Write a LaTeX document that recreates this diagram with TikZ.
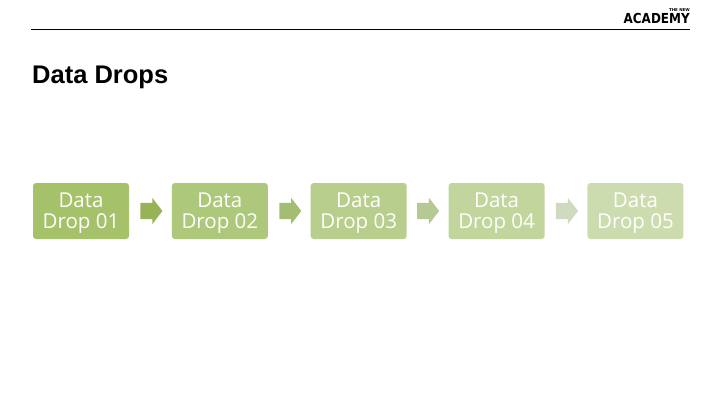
\documentclass[tikz,border=0pt]{standalone}
\usepackage{fontspec}
\setmainfont{Liberation Sans}
\newfontfamily\dropfont{Open Sans}
\newfontfamily\logofont{DejaVu Sans}
\usetikzlibrary{positioning,shapes.arrows}
\definecolor{dropa}{HTML}{A5C26B}
\definecolor{dropb}{HTML}{AEC87B}
\definecolor{dropc}{HTML}{B8CE8C}
\definecolor{dropd}{HTML}{C2D59C}
\definecolor{drope}{HTML}{CDDCAE}
\definecolor{arrowa}{HTML}{98B357}
\definecolor{arrowb}{HTML}{A5BD72}
\definecolor{arrowc}{HTML}{B6C893}
\definecolor{arrowd}{HTML}{D0DAC0}
\newcommand{\dropstrut}{\rule{0pt}{19.5pt}}
\tikzset{
	dropbox/.style={fill=#1, rounded corners=3pt, minimum width=96pt, minimum height=56pt, inner sep=0pt,
		align=center, text=white, font=\dropfont\fontsize{20.5}{21}\selectfont},
	droparrow/.style={single arrow, fill=#1, minimum height=22pt, inner xsep=0pt, inner ysep=8pt,
		single arrow head extend=5pt, single arrow tip angle=105, single arrow head indent=0pt}
}
\begin{document}
\begin{tikzpicture}[x=1pt, y=-1pt]
	\useasboundingbox (0,0) rectangle (720,405);
	\draw[line width=0.9pt] (31,29) -- (690,29);
	\node [anchor=base west, inner sep=0pt, font=\bfseries\fontsize{25.5}{28}\selectfont] (title) at (32,83) {Data Drops};
	\node [anchor=base east, inner sep=0pt, font=\logofont\bfseries\fontsize{12}{12}\selectfont] (logo) at (690,23) {\scalebox{1}[1.15]{ACADEMY}};
	\node [anchor=base east, inner sep=0pt, font=\logofont\bfseries\fontsize{4}{4}\selectfont] (small) at (690,11.5) {THE NEW};
	\node [dropbox=dropa] (drop1) at (81,211) {\dropstrut Data\\Drop 01};
	\node [droparrow=arrowa, right=11pt of drop1] (arrow1) {};
	\node [dropbox=dropb, right=9pt of arrow1] (drop2) {\dropstrut Data\\Drop 02};
	\node [droparrow=arrowb, right=11pt of drop2] (arrow2) {};
	\node [dropbox=dropc, right=9pt of arrow2] (drop3) {\dropstrut Data\\Drop 03};
	\node [droparrow=arrowc, right=10pt of drop3] (arrow3) {};
	\node [dropbox=dropd, right=9pt of arrow3] (drop4) {\dropstrut Data\\Drop 04};
	\node [droparrow=arrowd, right=11pt of drop4] (arrow4) {};
	\node [dropbox=drope, right=9pt of arrow4] (drop5) {\dropstrut Data\\Drop 05};
\end{tikzpicture}
\end{document}
